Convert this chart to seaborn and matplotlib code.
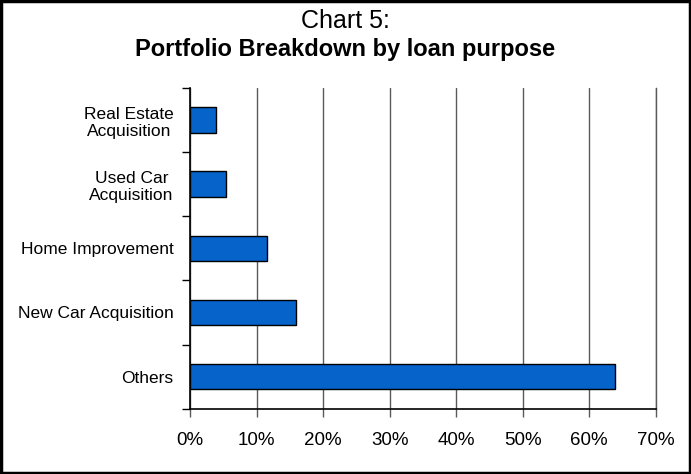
import matplotlib
matplotlib.use("Agg")
import matplotlib.pyplot as plt
import matplotlib.patches as mpatches
from matplotlib.ticker import FixedLocator, PercentFormatter
import seaborn as sns
import pandas as pd

# Loan purpose categories and their share of the portfolio (%)
categories = ["Real Estate\nAcquisition", "Used Car\nAcquisition", "Home Improvement",
              "New Car Acquisition", "Others"]
shares = [3.8, 5.3, 11.5, 15.9, 63.8]
x_ticks = [0, 10, 20, 30, 40, 50, 60, 70]

sns.set_theme(style="white")
plt.rcParams["font.family"] = ["Liberation Sans", "DejaVu Sans"]

df = pd.DataFrame({"purpose": categories, "share": shares})

fig = plt.figure(figsize=(6.91, 4.74), dpi=100)
ax = fig.add_axes([0.2754, 0.1378, 0.949 - 0.2754, 0.8143 - 0.1378])

sns.barplot(data=df, x="share", y="purpose", orient="h", color="#0563C9",
            saturation=1, edgecolor="black", linewidth=1.0, width=0.4, ax=ax)

ax.set_xlim(0, 70)
ax.set_ylim(len(categories) - 0.5, -0.5)
ax.xaxis.set_major_locator(FixedLocator(x_ticks))
ax.xaxis.set_major_formatter(PercentFormatter(decimals=0))
ax.grid(axis="x", color="#5a5a5a", linewidth=1.0)
ax.set_axisbelow(True)

# Category labels sit at bar centres; ticks mark boundaries between categories
ax.tick_params(axis="y", which="major", length=0, pad=12, labelsize=12.5, colors="black")
ax.yaxis.set_minor_locator(FixedLocator([i - 0.5 for i in range(len(categories) + 1)]))
ax.tick_params(axis="y", which="minor", left=True, length=6, width=1.0, color="black")
ax.tick_params(axis="x", which="major", bottom=True, length=6, width=1.0, color="#5a5a5a",
               pad=11, labelsize=13.5, labelcolor="black")

for lbl in ax.get_yticklabels():
    lbl.set_multialignment("center")

ax.set_xlabel("")
ax.set_ylabel("")
ax.spines["top"].set_visible(False)
ax.spines["right"].set_color("#5a5a5a")
ax.spines["right"].set_linewidth(1.0)
for side in ("left", "bottom"):
    ax.spines[side].set_color("black")
    ax.spines[side].set_linewidth(1.2)

fig.text(0.5, 0.955, "Chart 5:", ha="center", va="center", fontsize=18,
         color="black")
fig.text(0.5, 0.895, "Portfolio Breakdown by loan purpose", ha="center", va="center",
         fontsize=17, fontweight="bold", color="black")

fig.patches.append(mpatches.Rectangle((0.002, 0.002), 0.996, 0.996, transform=fig.transFigure,
                                      fill=False, edgecolor="black", linewidth=2.5))

fig.savefig("out.png", dpi=100)
